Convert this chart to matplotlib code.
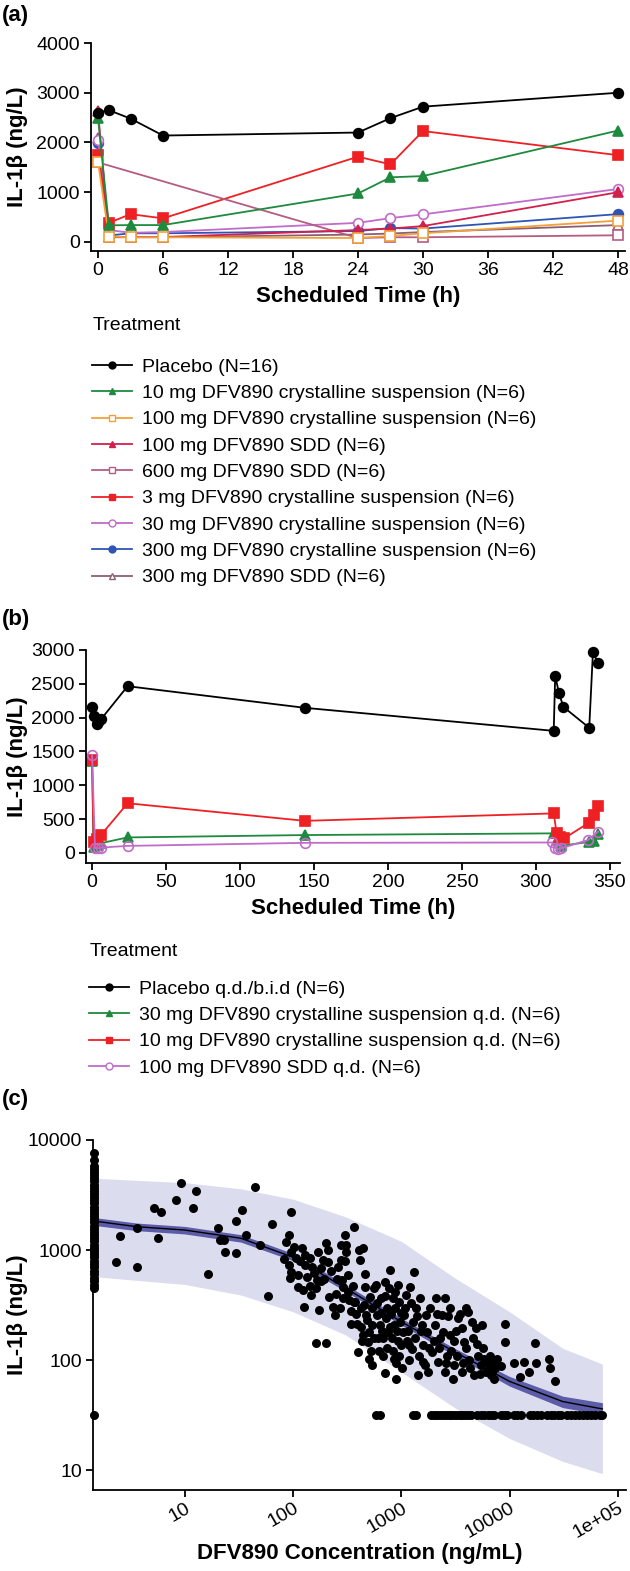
import matplotlib
matplotlib.use("Agg")
import matplotlib.pyplot as plt
from matplotlib.lines import Line2D

plt.rcParams["font.family"] = ["Liberation Sans", "DejaVu Sans"]

# ---- panel (a): single dose, 0-48 h ----
a_times = [0, 1, 3, 6, 24, 27, 30, 48]
a_placebo = [2600, 2650, 2480, 2140, 2200, 2490, 2720, 3000]
a_10mg_cs = [2490, 335, 340, 340, 975, 1300, 1325, 2240]
a_100mg_cs = [1610, 110, 95, 95, 80, 120, 175, 430]
a_100mg_sdd = [2630, 100, 100, 100, 240, 270, 320, 1000]
a_600mg_sdd_times = [0, 24, 27, 30, 48]
a_600mg_sdd = [1600, 80, 95, 95, 135]
a_3mg_cs = [1750, 385, 560, 475, 1715, 1560, 2230, 1745]
a_30mg_cs = [2050, 240, 185, 200, 385, 480, 555, 1065]
a_300mg_cs = [1990, 130, 175, 175, 220, 280, 270, 560]
a_300mg_sdd = [2100, 95, 95, 95, 150, 170, 200, 340]

a_labels = [
    "Placebo (N=16)",
    "10 mg DFV890 crystalline suspension (N=6)",
    "100 mg DFV890 crystalline suspension (N=6)",
    "100 mg DFV890 SDD (N=6)",
    "600 mg DFV890 SDD (N=6)",
    "3 mg DFV890 crystalline suspension (N=6)",
    "30 mg DFV890 crystalline suspension (N=6)",
    "300 mg DFV890 crystalline suspension (N=6)",
    "300 mg DFV890 SDD (N=6)",
]

# ---- panel (b): multiple dose, 0-350 h ----
b_placebo_t = [0, 1, 3, 4, 6, 24, 144, 312, 313, 315.5, 318.5, 336, 338.5, 342]
b_placebo = [2160, 2030, 1900, 1930, 1975, 2465, 2145, 1805, 2615, 2370, 2160, 1850, 2965, 2810]
b_30mg_t = [0, 1, 3, 6, 24, 144, 312, 314, 317, 336, 339, 342]
b_30mg = [1360, 95, 120, 145, 230, 265, 290, 190, 105, 165, 170, 280]
b_10mg_t = [0, 1, 3, 6, 24, 144, 312, 314, 316, 319, 336, 339, 342]
b_10mg = [1375, 165, 200, 265, 735, 475, 585, 290, 240, 215, 450, 560, 695]
b_100sdd_t = [0, 2, 4, 6, 24, 144, 311, 313, 315, 317, 335, 342]
b_100sdd = [1445, 70, 70, 80, 105, 150, 155, 70, 60, 70, 190, 315]

b_labels = [
    "Placebo q.d./b.i.d (N=6)",
    "30 mg DFV890 crystalline suspension q.d. (N=6)",
    "10 mg DFV890 crystalline suspension q.d. (N=6)",
    "100 mg DFV890 SDD q.d. (N=6)",
]

# ---- panel (c): exposure-response ----
placebo_col = [450, 480, 520, 560, 600, 650, 700, 750, 800, 860, 920, 980, 1050, 1120,
               1200, 1280, 1370, 1460, 1560, 1670, 1780, 1900, 2030, 2170, 2320, 2480,
               2650, 2830, 3020, 3230, 3450, 3690, 3940, 4210, 4500, 4800, 5150, 5500,
               5800, 6600, 7600, 32]

conc = [2.3, 2.5, 3.6, 3.6, 5.2, 6.0, 5.6, 8.3, 9.2, 12.6, 11.8, 16.3, 20.2, 21.3, 23.1,
        23.5, 30, 30, 34, 37, 45, 49.5, 59, 63.5, 95,
        82, 86, 91, 96, 91, 96, 93, 103, 106, 110, 111, 115, 120, 124, 128, 134, 125, 142,
        142, 148, 155, 162, 162, 168, 175, 183, 190, 195, 200, 200, 212, 216, 225, 233, 242,
        256, 275, 278, 282, 291, 307, 302, 310, 323, 331, 345, 362, 362, 375, 390, 400, 405,
        415, 425, 445, 445, 462, 465, 475, 490, 505, 515, 538, 538, 558, 583, 595, 608, 635,
        655, 660, 675, 705, 710, 720, 740, 765, 780, 790, 820, 835, 850, 870, 890, 910, 930,
        956, 975, 1000,
        1020, 1060, 1110, 1160, 1190, 1210, 1250, 1280, 1310, 1370, 1420, 1480, 1510, 1570,
        1600, 1680, 1770, 1850, 1940, 2030, 2110, 2200, 2300, 2390, 2520, 2560, 2660, 2800,
        2840, 2980, 3100, 3220, 3370, 3600, 3650, 3800, 3950, 4120, 4300, 4490, 4700, 4900,
        5100, 5400, 5600, 5800, 6100, 6400, 6700, 6950, 7250, 7600, 7900, 8300, 9100, 9100,
        11000, 12500, 13700, 15000, 17000, 17500, 23000, 23500, 26500,
        380, 420, 430, 450, 480, 500, 520, 540, 560, 600, 620, 650, 680, 700, 730, 760, 800,
        830, 860, 880, 900, 940, 960, 990, 1030, 1080, 1130, 1180, 1230, 1330, 1400, 1450,
        1550, 1650, 1720, 1800, 2000, 2150, 2250, 2450, 2600, 2700, 2900, 3050, 3300, 3500,
        3700, 4000, 4200, 4600, 5000, 5300, 5700, 6000, 6600, 7100, 7400, 250, 270, 290,
        320, 340, 360, 180, 150, 130, 170, 210, 300, 260]
il1b = [783, 1340, 1600, 705, 2410, 2220, 1295, 2850, 4060, 3440, 2410, 601, 1570, 1233, 1233,
        966, 1840, 945, 2310, 1370, 3740, 1110, 385, 1720, 2220,
        830, 1190, 1370, 965, 730, 635, 555, 1070, 840, 465, 590, 795, 1035, 430, 730, 570, 305,
        840, 475, 390, 620, 450, 142, 530, 285, 690, 810, 550, 1150, 142, 785, 378, 640, 305,
        255, 550, 1110, 810, 535, 365, 1110, 1370, 965, 590, 355, 215, 1630, 340, 340, 215,
        119, 1000, 810, 295, 1035, 170, 610, 465, 255, 147, 103, 378, 90, 295, 450, 480, 255,
        158, 208, 365, 185, 110, 515, 76, 240, 295, 450, 660, 200, 158, 365, 103, 295, 68,
        185, 480, 340, 222, 137,
        84, 255, 390, 185, 137, 465, 127, 222, 635, 295, 73, 365, 185, 96, 137, 255, 78, 295,
        119, 208, 365, 96, 158, 255, 78, 365, 110, 170, 295, 68, 90, 185, 240, 78, 197, 147,
        295, 275, 84, 222, 73, 197, 110, 90, 208, 103, 96, 90, 73, 78, 68, 103, 90, 88, 215,
        147, 94, 70, 96, 78, 142, 94, 103, 84, 65,
        260, 200, 150, 320, 230, 180, 120, 210, 160, 330, 120, 270, 160, 380, 130, 180, 260,
        120, 210, 420, 95, 150, 110, 270, 180, 300, 150, 100, 330, 160, 250, 110, 210, 90,
        180, 130, 150, 260, 130, 180, 95, 250, 120, 150, 110, 260, 95, 130, 100, 160, 140,
        75, 130, 78, 110, 95, 85, 400, 300, 460, 420, 280, 470, 520, 700, 900, 950, 1000,
        800, 700]

lloq_conc = [580, 640, 1270, 1380, 1900, 2000, 2150, 2300, 2450, 2600, 2750, 2900, 3050,
             3250, 3450, 3650, 3900, 4150, 4400, 5000, 5400, 5800, 6300, 6800, 7200, 8300,
             8800, 9500, 11000, 11800, 12800, 15500, 16500, 18000, 19500, 22000, 24000,
             26000, 28000, 30000, 34000, 37000, 40000, 44000, 48000, 52000, 57000, 62000,
             68000, 72000]
lloq_val = 32

curve_conc = [1.42, 3.6, 10, 33, 100, 307, 1000, 3100, 10000, 31000, 72000]
curve_median = [1840, 1630, 1520, 1280, 860, 450, 223, 119, 64, 42, 36]
curve_ci_lo = [1680, 1500, 1400, 1180, 800, 420, 208, 110, 58, 37, 32]
curve_ci_hi = [1980, 1760, 1640, 1380, 930, 485, 240, 128, 71, 47, 41]
curve_pi_lo = [575, 530, 487, 390, 275, 169, 78, 37, 19.4, 12, 9.3]
curve_pi_hi = [4500, 4300, 4100, 3600, 2900, 2000, 1200, 560, 275, 128, 92]

W, H = 630, 1571


def px_axes(left, top, right, bottom):
    return [left / W, 1 - bottom / H, (right - left) / W, (bottom - top) / H]


def style_axes(ax, left_px, width_px):
    for side in ("top", "right"):
        ax.spines[side].set_visible(False)
    for side in ("left", "bottom"):
        ax.spines[side].set_linewidth(1.3)
    ax.tick_params(direction="out", length=5, width=1.3, labelsize=14, pad=3)
    ax.set_ylabel("IL-1β (ng/L)", fontsize=16, fontweight="bold")
    # same distance from the figure edge for every y label
    ax.yaxis.set_label_coords((28 - left_px) / width_px, 0.5)


fig = plt.figure(figsize=(W / 100, H / 100), dpi=100)
legend_kw = dict(loc="upper left", frameon=False, fontsize=14, handlelength=2.05,
                 handletextpad=0.5, labelspacing=0.45, borderpad=0, borderaxespad=0)

# ---------------- (a) ----------------
ax_a = fig.add_axes(px_axes(91, 43, 625, 251))
style_axes(ax_a, 91, 534)
a_series = [
    (a_times, a_placebo, "#000000", "o", True),
    (a_times, a_10mg_cs, "#1e8a3e", "^", True),
    (a_times, a_100mg_cs, "#f2a03a", "s", False),
    (a_times, a_100mg_sdd, "#d2204e", "^", True),
    (a_600mg_sdd_times, a_600mg_sdd, "#b65c82", "s", False),
    (a_times, a_3mg_cs, "#ee2024", "s", True),
    (a_times, a_30mg_cs, "#c06cc8", "o", False),
    (a_times, a_300mg_cs, "#2f55b4", "o", True),
    (a_times, a_300mg_sdd, "#8c5e74", "^", False),
]
for t, v, c, m, filled in reversed(a_series):
    ax_a.plot(t, v, color=c, lw=1.3, marker=m, ms=7,
              mfc=c if filled else "white", mec=c, mew=1.2, clip_on=False)
a_handles = [Line2D([], [], color=c, lw=1.3, marker=m, ms=5,
                    mfc=c if filled else "white", mec=c, mew=1.0, label=lab)
             for (t, v, c, m, filled), lab in zip(a_series, a_labels)]
ax_a.set_xlim(-0.65, 48.65)
ax_a.set_ylim(-181, 4000)
ax_a.set_xticks([0, 6, 12, 18, 24, 30, 36, 42, 48])
ax_a.set_yticks([0, 1000, 2000, 3000, 4000])
ax_a.set_xlabel("Scheduled Time (h)", fontsize=16, fontweight="bold", labelpad=5)

fig.text(2 / W, 1 - 15 / H, "(a)", fontsize=16, fontweight="bold", va="center", ha="left")
fig.text(93 / W, 1 - 326 / H, "Treatment", fontsize=14, va="center", ha="left")
fig.legend(handles=a_handles, bbox_to_anchor=(92 / W, 1 - 358 / H), **legend_kw)

# ---------------- (b) ----------------
ax_b = fig.add_axes(px_axes(86, 650, 620, 863))
style_axes(ax_b, 86, 534)
b_series = [
    (b_placebo_t, b_placebo, "#000000", "o", True),
    (b_30mg_t, b_30mg, "#1e8a3e", "^", True),
    (b_10mg_t, b_10mg, "#ee2024", "s", True),
    (b_100sdd_t, b_100sdd, "#c06cc8", "o", False),
]
for t, v, c, m, filled in b_series:
    ax_b.plot(t, v, color=c, lw=1.3, marker=m, ms=7,
              mfc=c if filled else "none", mec=c, mew=1.2, clip_on=False)
b_handles = [Line2D([], [], color=c, lw=1.3, marker=m, ms=5,
                    mfc=c if filled else "white", mec=c, mew=1.0, label=lab)
             for (t, v, c, m, filled), lab in zip(b_series, b_labels)]
ax_b.set_xlim(-4.1, 356.8)
ax_b.set_ylim(-148, 3000)
ax_b.set_xticks([0, 50, 100, 150, 200, 250, 300, 350])
ax_b.set_yticks([0, 500, 1000, 1500, 2000, 2500, 3000])
ax_b.set_xlabel("Scheduled Time (h)", fontsize=16, fontweight="bold", labelpad=5)

fig.text(2 / W, 1 - 620 / H, "(b)", fontsize=16, fontweight="bold", va="center", ha="left")
fig.text(90 / W, 1 - 952 / H, "Treatment", fontsize=14, va="center", ha="left")
fig.legend(handles=b_handles, bbox_to_anchor=(89 / W, 1 - 980 / H), **legend_kw)

# ---------------- (c) ----------------
ax_c = fig.add_axes(px_axes(93, 1140, 626, 1490))
style_axes(ax_c, 93, 533)
ax_c.set_xscale("log")
ax_c.set_yscale("log")
ax_c.fill_between(curve_conc, curve_pi_lo, curve_pi_hi, color="#dcdcef", lw=0, zorder=1)
ax_c.fill_between(curve_conc, curve_ci_lo, curve_ci_hi, color="#5c5ca8", lw=0, zorder=2)
ax_c.plot(curve_conc, curve_median, color="#000000", lw=1.0, zorder=3)
ax_c.scatter(conc, il1b, s=42, color="black", lw=0, zorder=4)
ax_c.scatter(lloq_conc, [lloq_val] * len(lloq_conc), s=42, color="black", lw=0, zorder=4)
ax_c.scatter([1.45] * len(placebo_col), placebo_col, s=42, color="black", lw=0,
             zorder=5, clip_on=False)
ax_c.set_xlim(1.42, 1.19e5)
ax_c.set_ylim(6.6, 10000)
ax_c.minorticks_off()
ax_c.set_xticks([10, 100, 1000, 10000, 100000])
ax_c.set_xticklabels(["10", "100", "1000", "10000", "1e+05"], rotation=30,
                     ha="right", va="top", rotation_mode="anchor")
ax_c.tick_params(axis="x", pad=2)
ax_c.set_yticks([10, 100, 1000, 10000])
ax_c.set_yticklabels(["10", "100", "1000", "10000"])
ax_c.set_xlabel("DFV890 Concentration (ng/mL)", fontsize=16, fontweight="bold", labelpad=1)

fig.text(2 / W, 1 - 1100 / H, "(c)", fontsize=16, fontweight="bold", va="center", ha="left")

fig.savefig("out.png", dpi=100)
